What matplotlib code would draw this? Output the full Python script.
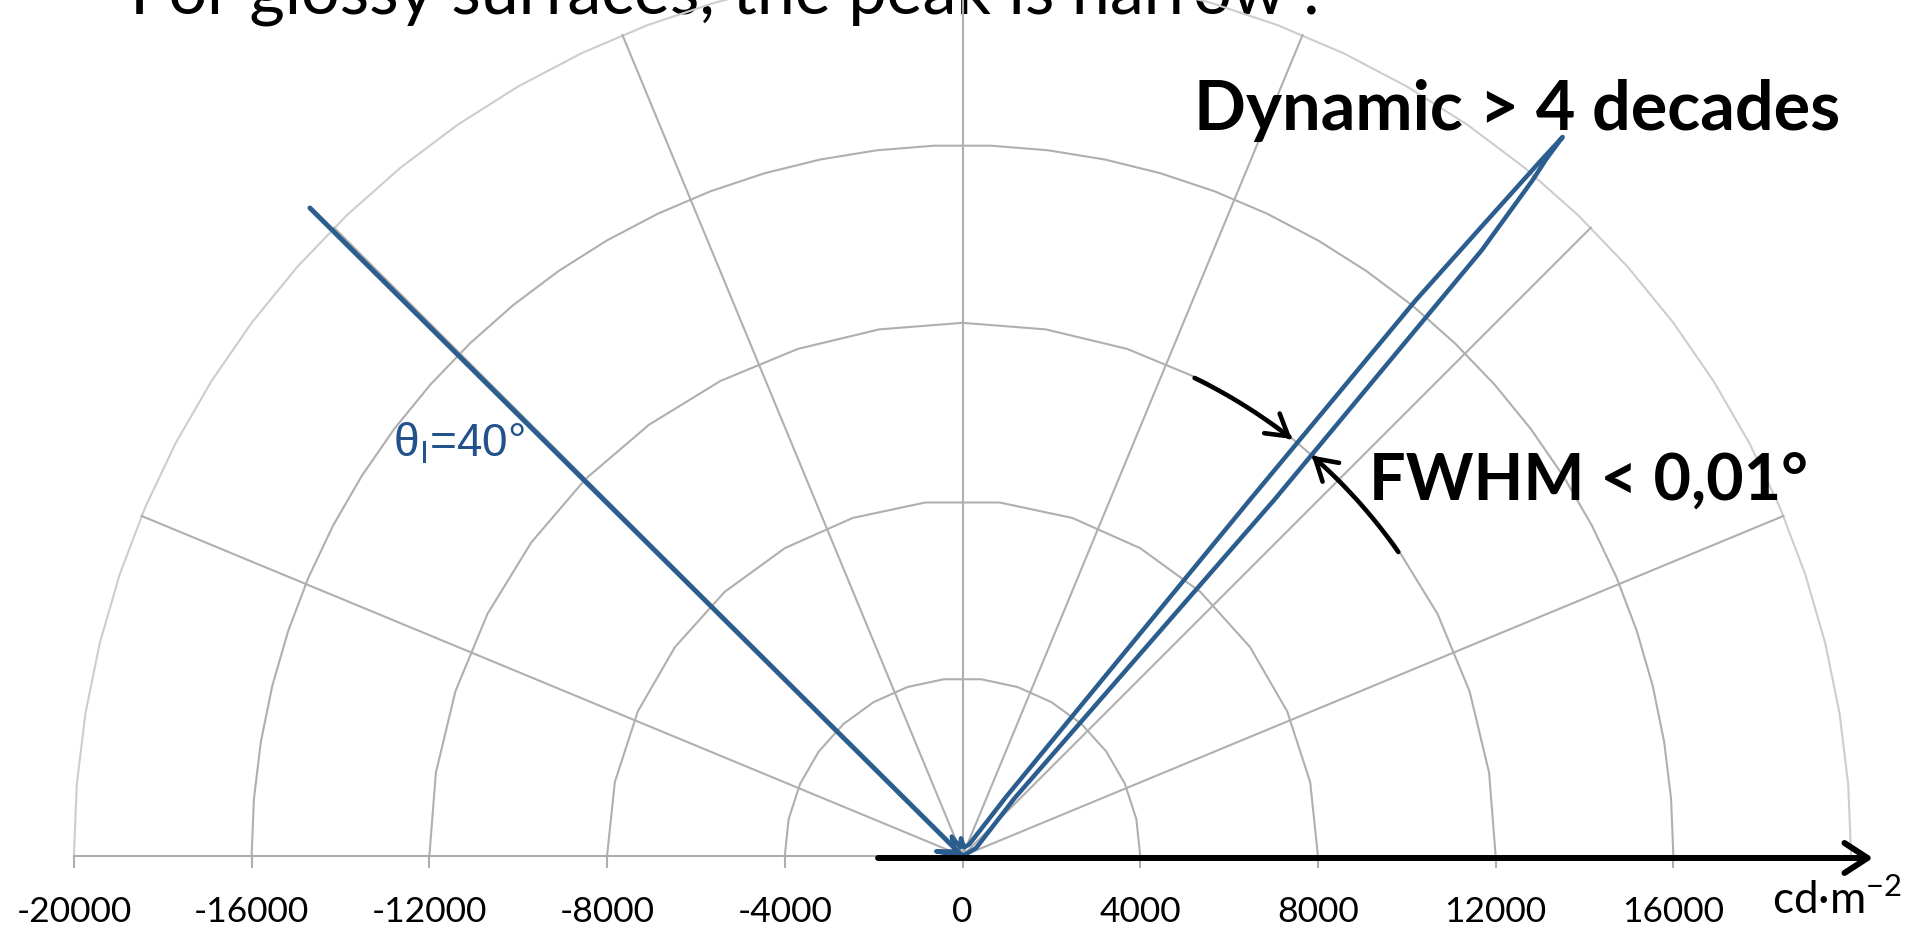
import numpy as np
import matplotlib
matplotlib.use('Agg')
import matplotlib.pyplot as plt
from matplotlib.patches import FancyArrowPatch
from matplotlib.path import Path

# ---------------- data ----------------
x_ticks = [-20000, -16000, -12000, -8000, -4000, 0, 4000, 8000, 12000, 16000]
x_tick_labels = ['-20000', '-16000', '-12000', '-8000', '-4000', '0',
                 '4000', '8000', '12000', '16000']
unit_label = 'cd·m$^{\\mathregular{-2}}$'
ring_radii = [4000, 8000, 12000, 16000, 20000]
ring_steps = [12, 12, 9, 4.6, 4.6]          # polygon step (deg) of each ring
spoke_angles = [22.5, 45, 67.5, 90, 112.5, 135, 157.5]   # deg from +x

# incident beam (angle from normal in deg, luminance cd/m2)
incident_angle = [-45.2, -45.2]
incident_lum = [0, 20700]

# reflected luminance (angle from normal in deg, luminance cd/m2)
refl_angle = [-90, -80, -60, -29, -15, -5, 10, 30,
              36.4, 38.9, 39.2, 39.5, 39.75, 39.85,
              39.95, 40.15, 40.6, 41.2, 42.0, 60, 90]
refl_lum = [0, 600, 200, 500, 200, 400, 200, 300,
            1660, 10290, 16145, 18265, 20360, 21080,
            20465, 19900, 17970, 10650, 1750, 350, 0]

title_text = 'For glossy surfaces, the peak is narrow :'
dyn_text = 'Dynamic > 4 decades'
fwhm_text = 'FWHM < 0,01°'
theta_text = 'θ$_{\\mathregular{I}}$=40°'

# ---------------- figure ----------------
plt.rcParams['font.family'] = ['Lato', 'DejaVu Sans']
W, H = 1911, 932
fig = plt.figure(figsize=(W / 100, H / 100), dpi=100)
ax = fig.add_axes([0, 0, 1, 1])
ax.patch.set_visible(False)

s = 0.04443           # px per unit
x0, y0 = 962.5, 856   # origin pixel
ax.set_xlim(-x0 / s, (W - x0) / s)
ax.set_ylim((y0 - H) / s, y0 / s)

GRID = '#afafaf'
BLUE = '#2b5d8e'

# rings
for r, st in zip(ring_radii, ring_steps):
    n = int(round(180 / st))
    a = np.radians(np.linspace(0, 180, n + 1))
    col = '#cdcdcd' if r == ring_radii[-1] else GRID
    ax.plot(r * np.cos(a), r * np.sin(a), color=col, lw=1.5, zorder=1)

# spokes
R = ring_radii[-1]
for ang in spoke_angles:
    a = np.radians(ang)
    ax.plot([0, R * np.cos(a)], [0, R * np.sin(a)], color=GRID, lw=1.5, zorder=1)

# x axis (bottom spine at y=0)
for k in ['left', 'right', 'top']:
    ax.spines[k].set_visible(False)
ax.spines['bottom'].set_position(('data', 0))
ax.spines['bottom'].set_bounds(-R, R)
ax.spines['bottom'].set_color(GRID)
ax.spines['bottom'].set_linewidth(1.5)
ax.set_yticks([])
ax.set_xticks(x_ticks, x_tick_labels)
ax.tick_params(axis='x', direction='out', length=8.6, width=1.5, color=GRID,
               labelsize=25.5, pad=20, labelcolor='black')

# data series
phi = np.radians(incident_angle)
L = np.array(incident_lum)
ax.plot(L * np.sin(phi), L * np.cos(phi), color=BLUE, lw=3.5, zorder=3,
        solid_capstyle='round')
phi = np.radians(refl_angle)
L = np.array(refl_lum)
ax.plot(L * np.sin(phi), L * np.cos(phi), color=BLUE, lw=3.2, zorder=3,
        solid_joinstyle='round', solid_capstyle='round')

# black axis arrow
arr = FancyArrowPatch((-1900, -45), (20493, -45),
                      arrowstyle='->,head_length=1.66,head_width=1.08',
                      mutation_scale=10, lw=4.3, color='black',
                      shrinkA=0, shrinkB=0, zorder=4)
ax.add_patch(arr)

# FWHM arc arrows (along the 12000 ring)
def arc(r, a1, a2, n=40):
    t = np.radians(np.linspace(a1, a2, n))
    return np.column_stack([r * np.sin(t), r * np.cos(t)])

for (a1, a2) in [(25.9, 38.3), (55.1, 41.1)]:
    p = Path(arc(11960, a1, a2))
    fa = FancyArrowPatch(path=p, arrowstyle='->,head_length=1.5,head_width=0.9',
                         mutation_scale=10, lw=3.3, color='black', zorder=4)
    ax.add_patch(fa)

# ---------------- texts ----------------
renderer = fig.canvas.get_renderer()

def fit_width(t, target):
    w = t.get_window_extent(renderer=renderer).width
    t.set_fontsize(t.get_fontsize() * target / w)

def ptext(px, py, txt, **kw):
    return fig.text(px / W, 1 - py / H, txt, va='baseline', ha='left', **kw)

t = ptext(130, 14, 'For glossy surfaces, the peak', fontsize=40, zorder=-1)
fit_width(t, 861)
t.set_text(title_text)

t = ptext(1194, 130, dyn_text, fontsize=50, fontweight='bold', zorder=5)
fit_width(t, 648)

t = ptext(1369, 500, fwhm_text, fontsize=50, fontweight='bold', zorder=5)
fit_width(t, 439)

t = ptext(393, 457, theta_text, fontsize=33, color='#22528c',
          family=['Liberation Sans', 'DejaVu Sans'], zorder=5)
fit_width(t, 132)

t = ptext(1772, 914, unit_label, fontsize=28, zorder=5)
fit_width(t, 130)

fig.savefig('out.png', dpi=100)
